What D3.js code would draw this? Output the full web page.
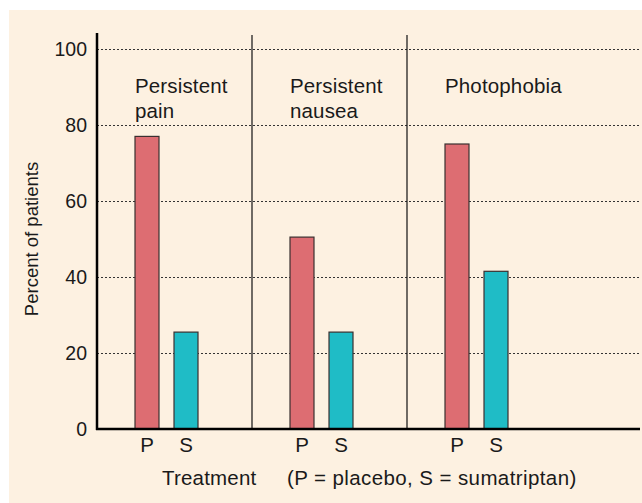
<!DOCTYPE html>
<html>
<head>
<meta charset="utf-8">
<script src="https://cdn.jsdelivr.net/npm/d3@7"></script>
<style>
  body { margin: 0; background: #fff; }
  text { font-family: "Liberation Sans", Arial, sans-serif; fill: #1a1a1a; }
</style>
</head>
<body>
<svg id="svg" width="642" height="503"></svg>
<script>
// data
const categories = ["Persistent pain", "Persistent nausea", "Photophobia"];
const titleLines = [["Persistent", "pain"], ["Persistent", "nausea"], ["Photophobia"]];
const treatments = ["P", "S"];
const placebo = [77, 50.5, 75];
const sumatriptan = [25.5, 25.5, 41.5];
const yTicks = [0, 20, 40, 60, 80, 100];

const colors = { P: "#dd6d72", S: "#1fbcc6" };
const fontSize = 20.5;

const svg = d3.select("#svg");

// 背景
svg.append("rect")
  .attr("x", 9).attr("y", 10)
  .attr("width", 633).attr("height", 493)
  .attr("fill", "#fdf1e1");

const plotLeft = 97, plotRight = 640, plotTop = 49, plotBottom = 429;

const y = d3.scaleLinear().domain([0, 100]).range([plotBottom, plotTop]);
const xGroup = d3.scaleBand().domain(categories).range([plotLeft, plotLeft + 3 * 155]);
const xInner = d3.scaleBand().domain(treatments).range([38, 101]).paddingInner(0.385);

// グリッド線
svg.append("g")
  .attr("transform", `translate(${plotLeft},0)`)
  .call(d3.axisLeft(y).tickValues(yTicks.filter(d => d > 0)).tickSize(-(plotRight - plotLeft)).tickFormat(""))
  .call(g => g.select(".domain").remove())
  .call(g => g.selectAll("line")
    .attr("stroke", "#333")
    .attr("stroke-width", 1)
    .attr("stroke-dasharray", "2,2"));

// 目盛りラベル
svg.append("g")
  .attr("transform", `translate(${plotLeft},0)`)
  .call(d3.axisLeft(y).tickValues(yTicks).tickSize(0).tickPadding(10))
  .call(g => g.select(".domain").remove())
  .call(g => g.selectAll("text")
    .attr("font-size", 19.5)
    .attr("font-family", "Liberation Sans, Arial, sans-serif")
    .attr("fill", "#1a1a1a"));

// 区切り線
categories.slice(0, 2).forEach(c => {
  const xx = xGroup(c) + xGroup.bandwidth();
  svg.append("line")
    .attr("x1", xx).attr("x2", xx)
    .attr("y1", 35).attr("y2", plotBottom)
    .attr("stroke", "#111").attr("stroke-width", 1.2);
});

// 棒
const rows = [];
categories.forEach((c, i) => {
  rows.push({ cat: c, t: "P", v: placebo[i] });
  rows.push({ cat: c, t: "S", v: sumatriptan[i] });
});

svg.append("g").selectAll("rect")
  .data(rows)
  .join("rect")
  .attr("x", d => xGroup(d.cat) + xInner(d.t))
  .attr("y", d => y(d.v))
  .attr("width", xInner.bandwidth())
  .attr("height", d => y(0) - y(d.v))
  .attr("fill", d => colors[d.t])
  .attr("stroke", "#3a3030")
  .attr("stroke-width", 1.2);

// 棒の下のラベル
svg.append("g").selectAll("text")
  .data(rows)
  .join("text")
  .attr("x", d => xGroup(d.cat) + xInner(d.t) + xInner.bandwidth() / 2)
  .attr("y", 452)
  .attr("text-anchor", "middle")
  .attr("font-size", fontSize)
  .text(d => d.t);

// カテゴリ名
categories.forEach((c, i) => {
  const t = svg.append("text")
    .attr("x", xGroup(c) + xInner("P"))
    .attr("y", 93)
    .attr("font-size", fontSize)
    .attr("letter-spacing", 0.15);
  titleLines[i].forEach((line, j) => {
    t.append("tspan")
      .attr("x", xGroup(c) + xInner("P"))
      .attr("dy", j === 0 ? 0 : 25)
      .text(line);
  });
});

// 軸線
svg.append("line")
  .attr("x1", plotLeft).attr("x2", plotLeft)
  .attr("y1", 33).attr("y2", plotBottom + 1)
  .attr("stroke", "#000").attr("stroke-width", 2.5);
svg.append("line")
  .attr("x1", plotLeft - 1).attr("x2", plotRight)
  .attr("y1", plotBottom).attr("y2", plotBottom)
  .attr("stroke", "#000").attr("stroke-width", 2.5);

// 軸タイトル
svg.append("text")
  .attr("transform", `translate(38,${(plotTop + plotBottom) / 2}) rotate(-90)`)
  .attr("text-anchor", "middle")
  .attr("font-size", 18.5)
  .text("Percent of patients");

svg.append("text")
  .attr("x", 162).attr("y", 485)
  .attr("font-size", fontSize)
  .attr("letter-spacing", 0.2)
  .text("Treatment");

svg.append("text")
  .attr("x", 287).attr("y", 485)
  .attr("font-size", fontSize)
  .attr("letter-spacing", 0.4)
  .text("(P = placebo, S = sumatriptan)");
</script>
</body>
</html>
